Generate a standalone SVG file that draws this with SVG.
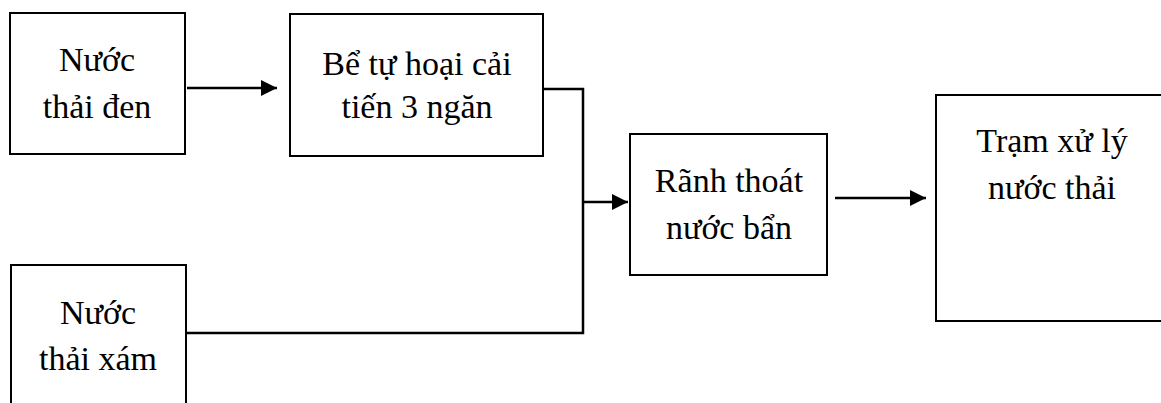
<svg xmlns="http://www.w3.org/2000/svg" width="1161" height="403" viewBox="0 0 1161 403">
<style>
.box{fill:#fff;stroke:#000;stroke-width:2}
.t{font-family:"Liberation Serif","Times New Roman",serif;font-size:34px;fill:#000;text-anchor:middle}
.c{fill:none;stroke:#000;stroke-width:2.5}
</style>
<defs>
<marker id="ah" markerUnits="userSpaceOnUse" markerWidth="17" markerHeight="17" refX="16" refY="8" orient="auto">
<path d="M0,0 L16,8 L0,16 Z" fill="#000"/>
</marker>
</defs>
<rect width="1161" height="403" fill="#fff"/>
<g id="n1"><rect class="box" x="10" y="13" width="175" height="141"/><text class="t" x="97" y="71">Nước</text><text class="t" x="97" y="118">thải đen</text></g>
<g id="n2"><rect class="box" x="290" y="14" width="253" height="142"/><text class="t" x="417" y="75">Bể tự hoại cải</text><text class="t" x="417" y="118">tiến 3 ngăn</text></g>
<g id="n3"><rect class="box" x="630" y="134" width="197" height="141"/><text class="t" x="729" y="192">Rãnh thoát</text><text class="t" x="729" y="239">nước bẩn</text></g>
<g id="n4"><rect class="box" x="936" y="95" width="240" height="226"/><text class="t" x="1052" y="152">Trạm xử lý</text><text class="t" x="1052" y="199">nước thải</text></g>
<g id="n5"><rect class="box" x="11" y="265" width="175" height="160"/><text class="t" x="98" y="324">Nước</text><text class="t" x="98" y="370">thải xám</text></g>
<g id="connectors">
<path class="c" d="M187,88 H277" marker-end="url(#ah)"/>
<path class="c" d="M543,89 H583 V333 H186"/>
<path class="c" d="M583,202 H628" marker-end="url(#ah)"/>
<path class="c" d="M835,198 H926" marker-end="url(#ah)"/>
</g>
</svg>
